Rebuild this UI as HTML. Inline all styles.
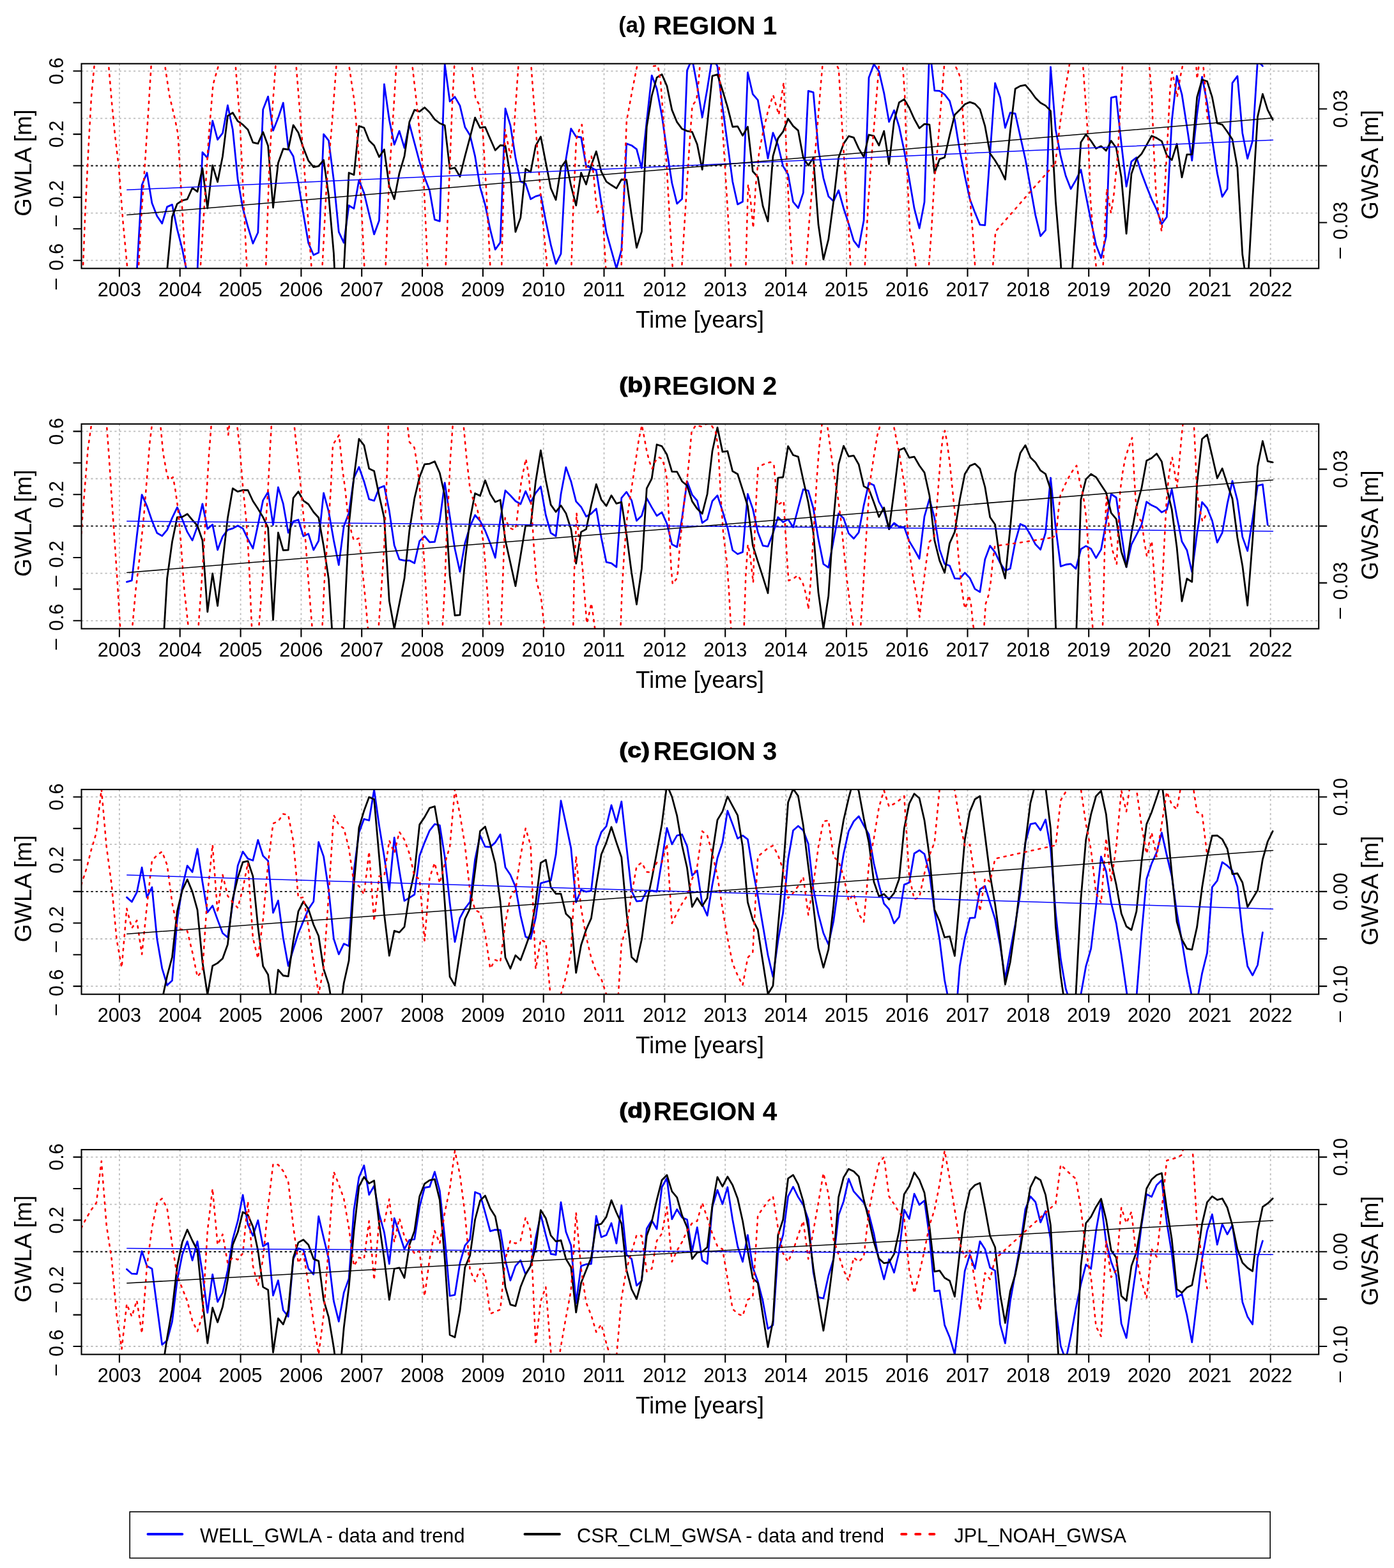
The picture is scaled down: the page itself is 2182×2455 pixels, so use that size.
<!DOCTYPE html>
<html lang="en">
<head>
<meta charset="utf-8">
<title>Groundwater anomalies by region</title>
<style>
html,body{margin:0;padding:0;background:#fff;}
body{width:2182px;height:2455px;overflow:hidden;}
svg{display:block;}
text{font-family:"Liberation Sans", sans-serif;fill:#000;}
.tt{font-size:40.6px;font-weight:bold;}
.ta{font-size:34.6px;font-weight:bold;}
.tb{font-size:32.6px;font-weight:bold;stroke:#000;stroke-width:1.1px;stroke-linejoin:round;}
.xl{font-size:30.6px;text-anchor:middle;}
.yl{font-size:30.6px;}
.lg{font-size:30.7px;}
.al{font-size:36.8px;text-anchor:middle;}
.grid{fill:none;stroke:#bcbcbc;stroke-width:1.8;stroke-dasharray:3.2 4.2;}
.zero{fill:none;stroke:#000;stroke-width:1.9;stroke-dasharray:3.4 4;}
.frame{fill:none;stroke:#000;stroke-width:2.1;}
.tick{fill:none;stroke:#000;stroke-width:2.1;}
.db{fill:none;stroke:#0000ff;stroke-width:2.8;stroke-linejoin:round;stroke-linecap:round;}
.dk{fill:none;stroke:#000;stroke-width:2.8;stroke-linejoin:round;stroke-linecap:round;}
.dr{fill:none;stroke:#ff0000;stroke-width:2.6;stroke-linejoin:round;stroke-linecap:round;stroke-dasharray:3 8;}
.lb{fill:none;stroke:#0000ff;stroke-width:4.2;stroke-linecap:round;}
.lk{fill:none;stroke:#000;stroke-width:4.2;stroke-linecap:round;}
.lr{fill:none;stroke:#ff0000;stroke-width:4.2;stroke-linecap:round;stroke-dasharray:7 15;}
.tb_{fill:none;stroke:#0000ff;stroke-width:1.5;stroke-linecap:round;}
.tk_{fill:none;stroke:#000;stroke-width:1.5;stroke-linecap:round;}
</style>
</head>
<body>
<svg width="2182" height="2455" viewBox="0 0 2182 2455">
<defs><clipPath id="c0"><rect x="127.5" y="99.7" width="1936.7" height="320.6"/></clipPath><clipPath id="c1"><rect x="127.5" y="663.8" width="1936.7" height="320.6"/></clipPath><clipPath id="c2"><rect x="127.5" y="1236.1" width="1936.7" height="320.6"/></clipPath><clipPath id="c3"><rect x="127.5" y="1800" width="1936.7" height="320.6"/></clipPath></defs>
<rect x="0" y="0" width="2182" height="2455" fill="#fff"/>
<g class="panel">
<text class="ta" x="968.2" y="51.1">(a)</text>
<text class="tt" x="1022.5" y="53.9">REGION 1</text>
<g clip-path="url(#c0)">
<path class="grid" d="M186.9 99.7 V420.3 M281.7 99.7 V420.3 M376.6 99.7 V420.3 M471.4 99.7 V420.3 M566.2 99.7 V420.3 M661 99.7 V420.3 M755.9 99.7 V420.3 M850.7 99.7 V420.3 M945.5 99.7 V420.3 M1040.4 99.7 V420.3 M1135.2 99.7 V420.3 M1230 99.7 V420.3 M1324.9 99.7 V420.3 M1419.7 99.7 V420.3 M1514.5 99.7 V420.3 M1609.4 99.7 V420.3 M1704.2 99.7 V420.3 M1799 99.7 V420.3 M1893.8 99.7 V420.3 M1988.7 99.7 V420.3 M127.5 111.3 H2064.2 M127.5 185.4 H2064.2 M127.5 333.6 H2064.2 M127.5 407.7 H2064.2"/>
<path class="zero" d="M127.5 259.5 H2064.2"/>
<path class="db" d="M198.4 469.2 L206.3 458.2 L214.2 425.2 L222.1 289.8 L230 270.5 L237.9 318 L245.8 338.3 L253.7 349.9 L261.6 323.9 L269.5 320.4 L277.4 359.2 L285.3 390 L293.2 429.6 L301.1 456 L309 425.2 L316.9 238.5 L324.8 247.3 L332.7 189.2 L340.6 218.7 L348.5 208.4 L356.4 165 L364.3 202.9 L372.2 281 L380.1 326.2 L388 354.8 L395.9 381.2 L403.8 364 L411.7 171.4 L419.6 151.1 L427.5 204.4 L435.4 184.6 L443.3 161 L451.2 231.5 L459.1 244.7 L467 286.5 L474.9 335 L482.8 380.7 L490.8 399.2 L498.7 395.5 L506.6 210.1 L514.5 220.2 L522.4 282.1 L530.3 363.1 L538.2 380.1 L546.1 321.7 L554 326.6 L561.9 282.1 L569.8 301.9 L577.7 335 L585.6 366.9 L593.5 345.3 L601.4 131.8 L609.3 187.5 L617.2 226.4 L625.1 205.1 L633 231.5 L640.9 194.1 L648.8 223.8 L656.7 253.5 L664.6 277.7 L672.5 298.6 L680.4 343.8 L688.3 346.4 L696.2 100.5 L704.1 158.8 L712 151.6 L719.9 165.4 L727.8 198.9 L735.7 211.7 L743.6 244.7 L751.5 293.1 L759.4 320.6 L767.3 359.2 L775.2 390.7 L783.1 379.6 L791 169.8 L798.9 196.3 L806.9 246.9 L814.8 284.3 L822.7 287.6 L830.6 311.8 L838.5 307.4 L846.4 305.2 L854.3 346 L862.2 383.4 L870.1 413.1 L878 397.3 L885.9 249.1 L893.8 201.5 L901.7 213.9 L909.6 215 L917.5 260.1 L925.4 262.3 L933.3 266.7 L941.2 317.3 L949.1 363.6 L957 392.2 L964.9 420.4 L972.8 391.1 L980.7 224.9 L988.6 227.7 L996.5 233.7 L1004.4 263.4 L1012.3 189.7 L1020.2 118.1 L1028.1 139 L1036 180.9 L1043.9 235.9 L1051.8 286.5 L1059.7 318.9 L1067.6 311.4 L1075.5 110.4 L1083.4 91.7 L1091.3 134.6 L1099.2 183.7 L1107.1 139 L1115 89.5 L1123 103.8 L1130.9 167.6 L1138.8 224.9 L1146.7 284.3 L1154.6 320 L1162.5 315.8 L1170.4 113.3 L1178.3 147.4 L1186.2 156.6 L1194.1 200.7 L1202 248 L1209.9 207.9 L1217.8 227.1 L1225.7 260.1 L1233.6 273.3 L1241.5 316.2 L1249.4 325.7 L1257.3 301.9 L1265.2 142.3 L1273.1 144.5 L1281 233.7 L1288.9 278.8 L1296.8 307.4 L1304.7 315.1 L1312.6 298 L1320.5 326.2 L1328.4 350.4 L1336.3 376.8 L1344.2 387.1 L1352.1 344.9 L1360 121.4 L1367.9 100.5 L1375.8 111.5 L1383.7 145.6 L1391.6 190.8 L1399.5 172.7 L1407.4 198.5 L1415.3 235.9 L1423.2 279.9 L1431.1 326.2 L1439.1 357.4 L1447 316.2 L1454.9 73 L1462.8 141.9 L1470.7 142.3 L1478.6 147.8 L1486.5 158.2 L1494.4 187.5 L1502.3 235.9 L1510.2 275.5 L1518.1 311.8 L1526 332.8 L1533.9 351.9 L1541.8 352.6 L1549.7 241.4 L1557.6 130.2 L1565.5 152.7 L1573.4 200 L1581.3 176.5 L1589.2 178 L1597.1 213.9 L1605 249.1 L1612.9 293.1 L1620.8 337.2 L1628.7 369.7 L1636.6 360.3 L1644.5 104.9 L1652.4 202.9 L1660.3 244.7 L1668.2 275.5 L1676.1 295.8 L1684 282.1 L1691.9 265.6 L1699.8 306.3 L1707.7 346 L1715.6 383.4 L1723.5 403.9 L1731.4 370.2 L1739.3 152.9 L1747.2 151.1 L1755.2 224.9 L1763.1 292 L1771 252.8 L1778.9 246.5 L1786.8 271.1 L1794.7 292 L1802.6 311.8 L1810.5 328.4 L1818.4 350.8 L1826.3 339.8 L1834.2 189.7 L1842.1 118.8 L1850 147.8 L1857.9 198.5 L1865.8 251.3 L1873.7 178.7 L1881.6 120.3 L1889.5 161 L1897.4 218.3 L1905.3 271.1 L1913.2 308.1 L1921.1 295.8 L1929 129.8 L1936.9 119.2 L1944.8 208.4 L1952.7 248.4 L1960.6 220.5 L1968.5 95 L1976.4 103.4"/>
<path class="dk" d="M253.7 579.3 L261.6 423 L269.5 339.4 L277.4 319.1 L285.3 314 L293.2 311.8 L301.1 294.2 L309 300.2 L316.9 263.4 L324.8 326.2 L332.7 259 L340.6 284.8 L348.5 244.7 L356.4 181.5 L364.3 176.5 L372.2 189.7 L380.1 195.2 L388 202.9 L395.9 223.1 L403.8 224.9 L411.7 206.8 L419.6 228.2 L427.5 325 L435.4 255.3 L443.3 233 L451.2 234.1 L459.1 195.8 L467 207.7 L474.9 231.5 L482.8 251.7 L490.8 261.6 L498.7 260.1 L506.6 250.6 L514.5 306.3 L522.4 396.6 L530.3 563 L538.2 423 L546.1 270.5 L554 273.8 L561.9 197.4 L569.8 200 L577.7 220 L585.6 227.7 L593.5 245.8 L601.4 234.1 L609.3 291.6 L617.2 311.8 L625.1 271.1 L633 244.7 L640.9 190.8 L648.8 172.1 L656.7 174.7 L664.6 168.3 L672.5 176 L680.4 186.8 L688.3 193 L696.2 196.3 L704.1 264.5 L712 262.7 L719.9 276.6 L727.8 244.7 L735.7 215 L743.6 184.2 L751.5 200.2 L759.4 198.9 L767.3 217.2 L775.2 235.2 L783.1 227.5 L791 228.2 L798.9 275.5 L806.9 363.1 L814.8 340.9 L822.7 264.5 L830.6 269.4 L838.5 228.2 L846.4 213.9 L854.3 254.6 L862.2 294.7 L870.1 312.9 L878 262.3 L885.9 251.3 L893.8 290.9 L901.7 321.7 L909.6 270.5 L917.5 288.7 L925.4 259 L933.3 237 L941.2 268.9 L949.1 284.3 L957 289.8 L964.9 294.9 L972.8 281 L980.7 281.5 L988.6 337.2 L996.5 387.8 L1004.4 362.5 L1012.3 198.5 L1020.2 150 L1028.1 121.4 L1036 116.4 L1043.9 134.6 L1051.8 172.1 L1059.7 191.2 L1067.6 201.8 L1075.5 205.1 L1083.4 206.6 L1091.3 226 L1099.2 265.6 L1107.1 194.1 L1115 118.8 L1123 116.6 L1130.9 141.2 L1138.8 167.6 L1146.7 198.5 L1154.6 197.8 L1162.5 212.3 L1170.4 198.5 L1178.3 268.3 L1186.2 277.1 L1194.1 322.8 L1202 346.6 L1209.9 244.7 L1217.8 216.7 L1225.7 206.2 L1233.6 185.9 L1241.5 197.4 L1249.4 204.4 L1257.3 246.9 L1265.2 259 L1273.1 247.2 L1281 351.5 L1288.9 406.1 L1296.8 374.6 L1304.7 315.1 L1312.6 246.9 L1320.5 224.9 L1328.4 213.2 L1336.3 215.4 L1344.2 232.6 L1352.1 245.8 L1360 211 L1367.9 212.8 L1375.8 227.7 L1383.7 205.1 L1391.6 257.2 L1399.5 189.7 L1407.4 160.4 L1415.3 155.5 L1423.2 168.7 L1431.1 186.4 L1439.1 200.7 L1447 194.1 L1454.9 195.2 L1462.8 271.1 L1470.7 249.1 L1478.6 246.5 L1486.5 211.7 L1494.4 179.8 L1502.3 172.1 L1510.2 163.2 L1518.1 159.9 L1526 162.6 L1533.9 170.9 L1541.8 197.4 L1549.7 240.3 L1557.6 251.3 L1565.5 264.5 L1573.4 281 L1581.3 205.1 L1589.2 139 L1597.1 134.6 L1605 133.1 L1612.9 142.3 L1620.8 153.3 L1628.7 161 L1636.6 165.4 L1644.5 173.6 L1652.4 315.1 L1660.3 409.8 L1668.2 557.3 L1676.1 456 L1684 338.9 L1691.9 222.7 L1699.8 210.6 L1707.7 220.5 L1715.6 232.6 L1723.5 228.8 L1731.4 235.9 L1739.3 220.5 L1747.2 231.5 L1755.2 277.7 L1763.1 365.8 L1771 272.2 L1778.9 249.1 L1786.8 241 L1794.7 227.1 L1802.6 212.8 L1810.5 216.1 L1818.4 221.1 L1826.3 242.9 L1834.2 250.6 L1842.1 225.3 L1850 277.7 L1857.9 241.8 L1865.8 241.8 L1873.7 152.2 L1881.6 124.7 L1889.5 127.4 L1897.4 152.2 L1905.3 193 L1913.2 195.2 L1921.1 206.2 L1929 218.3 L1936.9 262.3 L1944.8 398.8 L1952.7 451.6 L1960.6 312.9 L1968.5 183.1 L1976.4 147.2 L1984.3 172.1 L1992.2 187.5"/>
<path class="dr" d="M128.8 447.2 L129.9 419.7 L133.2 337.2 L138.7 227.1 L143.1 150 L147.5 103.8 L149.7 73"/>
<path class="dr" d="M168.4 73 L170.2 103.8 L175 161 L180.5 216.1 L186 262.3 L192.6 348.2 L199.3 419.7 L200.4 447.2"/>
<path class="dr" d="M215.8 447.2 L216.9 419.7 L221.3 337.2 L226.8 257.9 L232.3 172.1 L236.7 101.6 L237.8 73"/>
<path class="dr" d="M257.6 73 L258.7 106 L265.3 150 L274.1 187.5 L278.5 209.5 L282.9 286.5 L290.6 419.7 L291.7 447.2"/>
<path class="dr" d="M312.6 447.2 L313.7 419.7 L319.2 332.8 L326.9 211.7 L333.5 132.4 L342.3 101.6 L344.5 73"/>
<path class="dr" d="M367.7 73 L368.8 103.8 L375.4 187.5 L380.9 304.1 L386.4 419.7 L387.5 447.2"/>
<path class="dr" d="M415 447.2 L416.1 419.7 L421.6 257.9 L427.1 161 L431.5 101.6 L432.6 73"/>
<path class="dr" d="M462.3 73 L463.4 100.5 L472.2 209.5 L481 326.2 L487.6 419.7 L488.7 447.2"/>
<path class="dr" d="M503.3 447.2 L504.4 419.7 L511 293.1 L518.7 205.1 L526.4 103.8 L527.5 73"/>
<path class="dr" d="M545.1 73 L546.2 101.6 L555 161 L562.7 260.1 L570.4 419.7 L571.5 447.2"/>
<path class="dr" d="M602.4 447.2 L603.5 419.7 L609 282.1 L616.7 161 L620.4 101.6 L621.1 73"/>
<path class="dr" d="M644.2 73 L645.3 101.6 L654.1 178.7 L662.9 275.5 L669.5 419.7 L670.6 447.2"/>
<path class="dr" d="M696.4 447.2 L697.5 419.7 L703.6 271.1 L708 161 L711.3 101.6 L712 73"/>
<path class="dr" d="M737.8 73 L738.9 106 L744.4 154.4 L749.9 163.2 L755.4 200.7 L760.9 293.1 L767.5 419.7 L768.6 447.2"/>
<path class="dr" d="M784 447.2 L785.1 419.7 L790.6 202.9 L799.4 246.9 L803.8 213.9 L811.5 101.6 L812.6 73"/>
<path class="dr" d="M830.2 73 L831.3 101.6 L839 205.1 L847.8 326.2 L856.6 419.7 L857.7 447.2"/>
<path class="dr" d="M893.2 447.2 L894.3 419.7 L897.6 315.1 L902 218.3 L907.5 200.7 L910.8 195.2 L913 218.3 L917.4 262.3 L921.8 253.5 L925.8 244.7 L929.5 277.7 L932.8 315.1 L935 332.8 L942.7 321.7 L946 381.2 L948.2 419.7 L949.3 447.2"/>
<path class="dr" d="M971.4 447.2 L972.5 419.7 L976.9 293.1 L980.8 189.7 L990.1 139 L997.8 100.5 L1000 73"/>
<path class="dr" d="M1018.7 73 L1020.9 103.8 L1029.7 102.7 L1034.1 128 L1042.9 249.1 L1047.3 326.2 L1052.8 419.7 L1053.9 447.2"/>
<path class="dr" d="M1066 447.2 L1067.1 419.7 L1073.7 315.1 L1079.2 227.1 L1083.6 165.4 L1090.2 156.6 L1093.5 128 L1095.7 100.5 L1096.8 73"/>
<path class="dr" d="M1124.4 73 L1125.5 100.5 L1129.9 183.1 L1135.4 271.1 L1140.9 359.2 L1144.2 419.7 L1145.3 447.2"/>
<path class="dr" d="M1166.2 447.2 L1167.3 419.7 L1171 288.7 L1175 315.1 L1179 357 L1182.7 293.1 L1188.2 238.1 L1194.8 205.1 L1202.5 172.1 L1210.2 148.9 L1219 179.8 L1226.7 129.1 L1228.9 183.1 L1232.2 271.1 L1236.6 359.2 L1241 419.7 L1242.1 447.2"/>
<path class="dr" d="M1260 447.2 L1261.1 419.7 L1266.6 348.2 L1273.2 271.1 L1279.8 194.1 L1284.2 139 L1287.5 101.6 L1288.6 73"/>
<path class="dr" d="M1297.4 73 L1299.2 101.6 L1304 98.3 L1309.5 101.6 L1312.8 108.2 L1317.2 183.1 L1322.7 271.1 L1328.2 359.2 L1331.5 419.7 L1332.6 447.2"/>
<path class="dr" d="M1352.5 447.2 L1353.6 419.7 L1359.1 315.1 L1365.7 227.1 L1371.2 161 L1375.6 106 L1376.7 73"/>
<path class="dr" d="M1411.9 73 L1413 101.6 L1416.3 150 L1419.6 260.1 L1424 359.2 L1429.5 385.6 L1433.9 419.7 L1435 447.2"/>
<path class="dr" d="M1452.6 447.2 L1453.7 419.7 L1458.1 359.2 L1462.5 282.1 L1468 227.1 L1473.5 156.6 L1477.9 103.8 L1479 73"/>
<path class="dr" d="M1493.4 73 L1494.5 101.6 L1500 112.6 L1503.9 123.6 L1506.6 172.1 L1512.1 249.1 L1518.7 315.1 L1523.1 370.2 L1526.4 419.7 L1527.5 447.2"/>
<path class="dr" d="M1552.8 447.2 L1553.9 419.7 L1558.3 362.5 L1612.2 300.8 L1651.9 255.7"/>
<path class="dr" d="M1651.9 255.7 L1655.4 227.1 L1659.8 189.7 L1666.4 145.6 L1674.1 100.5 L1675.2 73"/>
<path class="dr" d="M1693.9 73 L1695 100.5 L1699.4 161 L1703.8 227.1 L1707.1 315.1 L1711.5 370.2 L1715.9 419.7 L1717.1 447.2"/>
<path class="dr" d="M1725.4 447.2 L1726.5 419.7 L1729.2 359.2 L1732.5 295.3 L1735.8 315.1 L1739.1 333.9 L1743.5 304.1 L1749 249.1 L1752.3 194.1 L1754.9 139 L1757.1 101.6 L1757.8 73"/>
<path class="dr" d="M1798.1 73 L1798.9 101.6 L1802.9 150 L1806.2 238.1 L1809.5 304.1 L1813.9 337.2 L1818.3 362.5 L1822.7 304.1 L1827.1 227.1 L1831.5 139 L1834.8 112.6 L1838.1 128 L1842.5 152.2 L1846.9 123.6 L1850.9 103.8 L1851.8 73"/>
<path class="dr" d="M1871.6 73 L1872.3 101.6 L1873.8 123.6 L1876.7 101.6 L1877.8 73"/>
<path class="dr" d="M1882.2 73 L1883.3 101.6 L1885.5 123.6 L1887.7 161 L1890.3 187.5"/>
<path class="tb_" d="M198.8 297.3 L1992.5 219.2"/>
<path class="tk_" d="M198.8 336.5 L1992.5 184.8"/>
</g>
<rect class="frame" x="127.5" y="99.7" width="1936.7" height="320.6"/>
<path class="tick" d="M127.5 407.7 h-13 M127.5 358.3 h-13 M127.5 308.9 h-13 M127.5 259.5 h-13 M127.5 210.1 h-13 M127.5 160.7 h-13 M127.5 111.3 h-13 M186.9 420.3 v13 M281.7 420.3 v13 M376.6 420.3 v13 M471.4 420.3 v13 M566.2 420.3 v13 M661 420.3 v13 M755.9 420.3 v13 M850.7 420.3 v13 M945.5 420.3 v13 M1040.4 420.3 v13 M1135.2 420.3 v13 M1230 420.3 v13 M1324.9 420.3 v13 M1419.7 420.3 v13 M1514.5 420.3 v13 M1609.4 420.3 v13 M1704.2 420.3 v13 M1799 420.3 v13 M1893.8 420.3 v13 M1988.7 420.3 v13 M2064.2 170.5 h13 M2064.2 259.5 h13 M2064.2 348.5 h13"/>
<text class="xl" x="186.9" y="464">2003</text>
<text class="xl" x="281.7" y="464">2004</text>
<text class="xl" x="376.6" y="464">2005</text>
<text class="xl" x="471.4" y="464">2006</text>
<text class="xl" x="566.2" y="464">2007</text>
<text class="xl" x="661" y="464">2008</text>
<text class="xl" x="755.9" y="464">2009</text>
<text class="xl" x="850.7" y="464">2010</text>
<text class="xl" x="945.5" y="464">2011</text>
<text class="xl" x="1040.4" y="464">2012</text>
<text class="xl" x="1135.2" y="464">2013</text>
<text class="xl" x="1230" y="464">2014</text>
<text class="xl" x="1324.9" y="464">2015</text>
<text class="xl" x="1419.7" y="464">2016</text>
<text class="xl" x="1514.5" y="464">2017</text>
<text class="xl" x="1609.4" y="464">2018</text>
<text class="xl" x="1704.2" y="464">2019</text>
<text class="xl" x="1799" y="464">2020</text>
<text class="xl" x="1893.8" y="464">2021</text>
<text class="xl" x="1988.7" y="464">2022</text>
<text class="al" x="1095.5" y="513">Time [years]</text>
<text class="yl" text-anchor="middle" transform="translate(99 111.3) rotate(-90)">0.6</text>
<text class="yl" text-anchor="middle" transform="translate(99 210.1) rotate(-90)">0.2</text>
<text class="yl" text-anchor="end" transform="translate(99 282.3) rotate(-90)"><tspan dy="-3.3">–</tspan><tspan dy="3.3" dx="12.5">0.2</tspan></text>
<text class="yl" text-anchor="end" transform="translate(99 381.1) rotate(-90)"><tspan dy="-3.3">–</tspan><tspan dy="3.3" dx="12.5">0.6</tspan></text>
<text class="al" transform="translate(49.3 255) rotate(-90)">GWLA [m]</text>
<text class="yl" text-anchor="middle" transform="translate(2109 170.5) rotate(-90)">0.03</text>
<text class="yl" text-anchor="end" transform="translate(2109 315.7) rotate(-90)"><tspan dy="-3.3">–</tspan><tspan dy="3.3" dx="12.5">0.03</tspan></text>
<text class="al" transform="translate(2157 258) rotate(-90)">GWSA [m]</text>
</g>
<g class="panel">
<text class="tb" transform="translate(969.3 613.5) scale(1.2 1)">(b)</text>
<text class="tt" x="1022.5" y="618">REGION 2</text>
<g clip-path="url(#c1)">
<path class="grid" d="M186.9 663.8 V984.4 M281.7 663.8 V984.4 M376.6 663.8 V984.4 M471.4 663.8 V984.4 M566.2 663.8 V984.4 M661 663.8 V984.4 M755.9 663.8 V984.4 M850.7 663.8 V984.4 M945.5 663.8 V984.4 M1040.4 663.8 V984.4 M1135.2 663.8 V984.4 M1230 663.8 V984.4 M1324.9 663.8 V984.4 M1419.7 663.8 V984.4 M1514.5 663.8 V984.4 M1609.4 663.8 V984.4 M1704.2 663.8 V984.4 M1799 663.8 V984.4 M1893.8 663.8 V984.4 M1988.7 663.8 V984.4 M127.5 675.4 H2064.2 M127.5 749.5 H2064.2 M127.5 897.7 H2064.2 M127.5 971.8 H2064.2"/>
<path class="zero" d="M127.5 823.6 H2064.2"/>
<path class="db" d="M198.4 911.1 L206.3 908.9 L214.2 839.5 L222.1 774.6 L230 792.2 L237.9 815.3 L245.8 834.5 L253.7 839.1 L261.6 829.6 L269.5 810.9 L277.4 794.4 L285.3 813.1 L293.2 832.9 L301.1 846.1 L309 824.1 L316.9 788.9 L324.8 828.1 L332.7 821.2 L340.6 861.1 L348.5 840 L356.4 829.6 L364.3 827.4 L372.2 823 L380.1 827.4 L388 843.9 L395.9 858.7 L403.8 821.9 L411.7 783.4 L419.6 770.2 L427.5 821.9 L435.4 762.9 L443.3 788.9 L451.2 834 L459.1 816.4 L467 813.8 L474.9 839.5 L482.8 835.8 L490.8 861.1 L498.7 846.8 L506.6 771.9 L514.5 801 L522.4 846.1 L530.3 884.6 L538.2 824.1 L546.1 803.2 L554 748.2 L561.9 731.2 L569.8 753.7 L577.7 781.6 L585.6 784 L593.5 764 L601.4 760.9 L609.3 799.9 L617.2 853.8 L625.1 875.8 L633 877.6 L640.9 877.6 L648.8 881.8 L656.7 847.2 L664.6 839.5 L672.5 848.8 L680.4 848.3 L688.3 815.3 L696.2 755.9 L704.1 808.7 L712 859.3 L719.9 895.2 L727.8 850.5 L735.7 824.1 L743.6 806.5 L751.5 815.7 L759.4 830.7 L767.3 850.5 L775.2 873.2 L783.1 813.1 L791 768 L798.9 775.7 L806.9 784.5 L814.8 789.3 L822.7 769.1 L830.6 786.7 L838.5 771.9 L846.4 761.8 L854.3 806.5 L862.2 834.5 L870.1 839.5 L878 773.5 L885.9 731.6 L893.8 753.7 L901.7 785.1 L909.6 793.7 L917.5 808.7 L925.4 804.3 L933.3 796.6 L941.2 841.7 L949.1 880.2 L957 881.8 L964.9 887.9 L972.8 779.6 L980.7 770.2 L988.6 783.4 L996.5 815.3 L1004.4 807.6 L1012.3 780.1 L1020.2 794.4 L1028.1 807.6 L1036 802.1 L1043.9 819.7 L1051.8 852.3 L1059.7 856.5 L1067.6 810.9 L1075.5 753.7 L1083.4 774.6 L1091.3 784 L1099.2 818.6 L1107.1 813.1 L1115 784.5 L1123 775.7 L1130.9 799.9 L1138.8 826.3 L1146.7 861.5 L1154.6 867.5 L1162.5 864.4 L1170.4 773.5 L1178.3 796.6 L1186.2 832.9 L1194.1 854.3 L1202 855.6 L1209.9 835.1 L1217.8 809.8 L1225.7 817.5 L1233.6 813.1 L1241.5 825.6 L1249.4 795.5 L1257.3 766.2 L1265.2 768.4 L1273.1 796 L1281 843.9 L1288.9 883.1 L1296.8 888.6 L1304.7 846.1 L1312.6 803.9 L1320.5 811.6 L1328.4 835.1 L1336.3 843.3 L1344.2 833.6 L1352.1 791.1 L1360 755.9 L1367.9 759.8 L1375.8 785.6 L1383.7 799.9 L1391.6 828.5 L1399.5 819 L1407.4 824.8 L1415.3 825.2 L1423.2 847.2 L1431.1 860.4 L1439.1 874.7 L1447 808.7 L1454.9 781.2 L1462.8 810.9 L1470.7 860.4 L1478.6 882.9 L1486.5 885.7 L1494.4 905.6 L1502.3 906 L1510.2 896.8 L1518.1 905.1 L1526 922.1 L1533.9 926.9 L1541.8 875.8 L1549.7 854.5 L1557.6 864.8 L1565.5 881.3 L1573.4 893.5 L1581.3 890.2 L1589.2 848.3 L1597.1 820.4 L1605 824.1 L1612.9 837.3 L1620.8 852.3 L1628.7 860.4 L1636.6 834 L1644.5 748.2 L1652.4 826.3 L1660.3 886.8 L1668.2 884 L1676.1 882.9 L1684 890.6 L1691.9 859.8 L1699.8 854.9 L1707.7 859.3 L1715.6 873.6 L1723.5 860.4 L1731.4 817.5 L1739.3 773.5 L1747.2 779 L1755.2 835.1 L1763.1 887.9 L1771 852.7 L1778.9 837.3 L1786.8 821.9 L1794.7 785.6 L1802.6 791.1 L1810.5 794.8 L1818.4 802.1 L1826.3 798.1 L1834.2 766.2 L1842.1 808.7 L1850 847.7 L1857.9 861.5 L1865.8 895.7 L1873.7 835.1 L1881.6 786.2 L1889.5 795.5 L1897.4 815.3 L1905.3 849.4 L1913.2 834 L1921.1 788.9 L1929 753 L1936.9 783.4 L1944.8 840.6 L1952.7 862.6 L1960.6 813.1 L1968.5 760.3 L1976.4 758.5 L1984.3 821.9"/>
<path class="dk" d="M253.7 1039.8 L261.6 905.6 L269.5 848.3 L277.4 809.8 L285.3 809.4 L293.2 804.7 L301.1 814.2 L309 823 L316.9 846.1 L324.8 958 L332.7 897.9 L340.6 948.5 L348.5 879.1 L356.4 810.9 L364.3 764.7 L372.2 769.7 L380.1 767.3 L388 767.5 L395.9 784.5 L403.8 796.6 L411.7 809.8 L419.6 826.3 L427.5 970.5 L435.4 834 L443.3 861.5 L451.2 861.1 L459.1 779.6 L467 769.7 L474.9 783.8 L482.8 789.5 L490.8 801.7 L498.7 810.5 L506.6 854.9 L514.5 906.7 L522.4 1028.2 L530.3 1165.3 L538.2 989.2 L546.1 821.9 L554 747.1 L561.9 687.2 L569.8 697.1 L577.7 733.8 L585.6 737.6 L593.5 775.7 L601.4 810.9 L609.3 940.8 L617.2 984.4 L625.1 945.2 L633 905.6 L640.9 830.7 L648.8 780.1 L656.7 747.1 L664.6 726.8 L672.5 726.1 L680.4 722.4 L688.3 740.5 L696.2 775.7 L704.1 901.2 L712 963.5 L719.9 962.8 L727.8 879.1 L735.7 813.1 L743.6 772.4 L751.5 776.3 L759.4 752.1 L767.3 773.5 L775.2 786 L783.1 782.7 L791 846.1 L798.9 881.3 L806.9 917.7 L814.8 870.3 L822.7 822.6 L830.6 823.4 L838.5 753.7 L846.4 705.2 L854.3 751.5 L862.2 790.4 L870.1 801.4 L878 791.5 L885.9 803.7 L893.8 828.5 L901.7 882.4 L909.6 832.9 L917.5 828.5 L925.4 791.1 L933.3 758.1 L941.2 782.3 L949.1 792.2 L957 775.7 L964.9 788.4 L972.8 786.2 L980.7 837.3 L988.6 896.8 L996.5 946.3 L1004.4 890.2 L1012.3 764.7 L1020.2 749.3 L1028.1 696 L1036 698.6 L1043.9 711.8 L1051.8 738.3 L1059.7 738.7 L1067.6 753.7 L1075.5 760.3 L1083.4 784.9 L1091.3 796.6 L1099.2 804.3 L1107.1 773.5 L1115 706.3 L1123 669.3 L1130.9 707.4 L1138.8 706.3 L1146.7 737.8 L1154.6 742.2 L1162.5 766.9 L1170.4 792.6 L1178.3 853.8 L1186.2 879.1 L1194.1 903.4 L1202 928.7 L1209.9 835.1 L1217.8 748.2 L1225.7 747.1 L1233.6 698.6 L1241.5 712.5 L1249.4 715.1 L1257.3 751.5 L1265.2 786.7 L1273.1 834 L1281 927.6 L1288.9 984.4 L1296.8 933.1 L1304.7 813.1 L1312.6 727.2 L1320.5 698.2 L1328.4 714.7 L1336.3 713.4 L1344.2 727.2 L1352.1 761.4 L1360 765.8 L1367.9 786.7 L1375.8 809.4 L1383.7 794.8 L1391.6 828.5 L1399.5 769.1 L1407.4 704.8 L1415.3 701.5 L1423.2 716.7 L1431.1 715.1 L1439.1 729 L1447 739.8 L1454.9 775.7 L1462.8 846.1 L1470.7 877.6 L1478.6 896.8 L1486.5 850.5 L1494.4 832.9 L1502.3 782.3 L1510.2 742.2 L1518.1 729.4 L1526 726.1 L1533.9 733.8 L1541.8 762.5 L1549.7 809.8 L1557.6 821.2 L1565.5 879.1 L1573.4 905.6 L1581.3 826.3 L1589.2 741.6 L1597.1 709.2 L1605 697.1 L1612.9 716.2 L1620.8 723.9 L1628.7 736.7 L1636.6 742.2 L1644.5 766.3 L1652.4 978.2 L1660.3 1165.3 L1668.2 1209.4 L1676.1 1165.3 L1684 1011.2 L1691.9 782.3 L1699.8 750.4 L1707.7 742.2 L1715.6 747.1 L1723.5 759.2 L1731.4 771.3 L1739.3 803.2 L1747.2 812.7 L1755.2 863.7 L1763.1 887.9 L1771 835.1 L1778.9 793.3 L1786.8 764.7 L1794.7 721.3 L1802.6 717.3 L1810.5 710.3 L1818.4 722.8 L1826.3 764.7 L1834.2 797.7 L1842.1 857.1 L1850 941.4 L1857.9 906 L1865.8 911.1 L1873.7 755.9 L1881.6 687.2 L1889.5 680.6 L1897.4 714 L1905.3 748.6 L1913.2 733.4 L1921.1 758.1 L1929 780.7 L1936.9 841.7 L1944.8 885.7 L1952.7 948 L1960.6 846.1 L1968.5 730.5 L1976.4 690.5 L1984.3 722.2 L1992.2 723.9"/>
<path class="dr" d="M124.4 879.1 L128.8 813.1 L133.2 758.1 L137.6 703 L143.1 664.5 L144.2 637"/>
<path class="dr" d="M165.8 637 L166.9 664.5 L170.6 714 L175 782.3 L179.4 846.1 L183.8 912.2 L188.2 983.7 L189.3 1011.2"/>
<path class="dr" d="M205.9 1011.2 L207 983.7 L212.5 923.2 L219.1 868.1 L225.7 802.1 L230.1 747.1 L234.5 692 L237.8 665.6 L238.9 637"/>
<path class="dr" d="M250.3 637 L251.4 667.8 L255.4 709.6 L260.9 740.5 L264.2 751.5 L270.8 747.1 L274.1 764.7 L278.5 795.5 L282.9 846.1 L288.4 923.2 L295 983.7 L296.1 1011.2"/>
<path class="dr" d="M309.3 1011.2 L310.4 983.7 L314.8 923.2 L319.2 857.1 L323.6 769.1 L326.9 714 L330.7 665.6 L331.3 637"/>
<path class="dr" d="M354.7 637 L355.6 665.6 L357.3 681 L358.9 665.6 L359.5 637"/>
<path class="dr" d="M369.9 637 L371 664.5 L375.4 703 L379.8 758.1 L385.3 813.1 L389.7 879.1 L394.1 983.7 L395.2 1011.2"/>
<path class="dr" d="M404 1011.2 L405.1 983.7 L410.6 912.2 L415 835.1 L419.4 769.1 L422.7 703 L424.9 665.6 L425.6 637"/>
<path class="dr" d="M459.7 637 L460.8 667.8 L465.6 714 L470 753.7 L476.6 824.1 L482.1 901.2 L488.7 983.7 L489.8 1011.2"/>
<path class="dr" d="M503.3 1011.2 L504.4 983.7 L507.7 912.2 L513.2 835.1 L517.6 769.1 L520.9 698.6 L523.1 693.1 L530.8 681 L533 703 L536.3 736.1 L540.7 769.1 L545.1 813.1 L550.6 835.1 L553.9 846.1 L561.6 842.8 L564.9 868.1 L568.2 901.2 L571.5 934.2 L575.9 983.7 L577.1 1011.2"/>
<path class="dr" d="M591.4 1011.2 L592.5 983.7 L596.9 923.2 L601.3 857.1 L604.6 769.1 L606.8 714 L607.9 665.6 L608.3 637"/>
<path class="dr" d="M636.9 637 L638 667.8 L640.9 692 L648.6 700.8 L651.9 720.6 L656.3 753.7 L659.6 813.1 L664 879.1 L667.3 934.2 L671.3 983.7 L672.2 1011.2"/>
<path class="dr" d="M691.5 1011.2 L692.6 983.7 L695.9 923.2 L699.2 835.1 L702.5 769.1 L705.2 714 L708.7 665.6 L709.6 637"/>
<path class="dr" d="M724.5 637 L725.6 665.6 L730 714 L735.6 764.7 L740 780.1 L746.6 795.5 L753.2 824.1 L757.6 857.1 L760.9 901.2 L764.2 945.2 L766.4 983.7 L767.5 1011.2"/>
<path class="dr" d="M782.9 1011.2 L784 983.7 L787.3 901.2 L790.6 810.9 L797.2 826.3 L804.9 829.6 L808.2 821.9 L811.5 791.1 L815.9 753.7 L823.2 718.4 L828 747.1 L832.4 802.1 L835.7 857.1 L840.1 912.2 L846.7 934.2 L852.2 983.7 L853.3 1011.2"/>
<path class="dr" d="M896.5 1011.2 L897.2 983.7 L898.7 901.2 L900.9 846.1 L902.5 803.2 L905.3 835.1 L908.6 857.1 L911.9 890.2 L915.2 934.2 L918.5 976 L921.8 962.8 L925.6 944.5 L928.4 962.8 L931.1 983.7 L932 1011.2"/>
<path class="dr" d="M970.3 1011.2 L971.4 983.7 L973.6 923.2 L976.9 868.1 L981.3 813.1 L987.9 769.1 L994.5 725 L1000 687.6 L1004.8 665.6 L1007.7 681 L1012.1 705.2 L1016.5 722.8 L1020.9 733.8 L1025.3 722.8 L1030.8 715.8 L1036.3 718.4 L1040.7 731.6 L1044 751.5 L1046.2 791.1 L1048.4 846.1 L1050.6 890.2 L1052.8 914.4 L1059.4 905.6 L1061.6 890.2 L1063.8 857.1 L1067.1 824.1 L1071.5 780.1 L1075.9 747.1 L1079.2 714 L1082.5 676.6 L1089.1 665.6 L1097.9 667.8 L1106.7 663.4 L1113.4 665.6 L1120 675.5 L1124.4 703 L1127.7 769.1 L1132.1 835.1 L1137.6 879.1 L1140.9 923.2 L1144.2 983.7 L1145.3 1011.2"/>
<path class="dr" d="M1163.5 1011.2 L1164.6 983.7 L1167.3 901.2 L1170.6 852.7 L1173.9 868.1 L1179 912.2 L1180.5 857.1 L1182.7 802.1 L1184.9 758.1 L1186.7 731.6 L1194.8 727.2 L1205.8 723.5 L1211.3 727.2 L1213.5 751.5 L1216.8 791.1 L1226.7 784.5 L1228.9 824.1 L1232.2 879.1 L1234.4 908.9 L1241 906.7 L1248.7 900.7 L1256.4 912.2 L1260.8 927.6 L1265.3 951.8"/>
<path class="dr" d="M1265.5 951.8 L1268.8 912.2 L1272.1 857.1 L1275.4 802.1 L1278.7 747.1 L1282 703 L1286.4 665.6 L1287.5 637"/>
<path class="dr" d="M1294.1 637 L1295.2 667.8 L1298.5 692 L1302.9 725 L1307.3 753.7 L1311.7 780.1 L1316.1 813.1 L1320.5 857.1 L1324.9 901.2 L1330.4 945.2 L1335.9 983.7 L1337.1 1011.2"/>
<path class="dr" d="M1345.9 1011.2 L1347 983.7 L1350.3 934.2 L1353.6 879.1 L1356.9 824.1 L1361.3 758.1 L1367.9 714 L1373.4 681 L1377.8 665.6 L1378.9 637"/>
<path class="dr" d="M1397.6 637 L1398.7 665.6 L1403.1 687.6 L1407.5 709.6 L1411.9 736.1 L1416.3 764.7 L1419.6 813.1 L1424 868.1 L1429.5 905.6 L1435 934.2 L1439.4 966.1 L1442.7 934.2 L1447.1 901.2 L1451.5 868.1 L1454.8 848.3 L1462.5 839.5 L1465.8 802.1 L1469.1 758.1 L1472.4 714 L1475.7 685.4 L1479 674.4 L1482.3 692 L1486.7 725 L1490 758.1 L1493.4 791.1 L1496.7 824.1 L1500 868.1 L1504.4 912.2 L1508.8 945.2 L1511 952.9 L1516.5 932 L1519.8 945.2 L1523.1 978.2 L1524.2 983.7 L1524.8 1011.2"/>
<path class="dr" d="M1539.1 1011.2 L1540.2 983.7 L1542.9 945.2 L1547.3 932 L1550.6 912.2 L1553.9 879.1 L1557.2 854.9 L1590.2 850.5 L1647.5 841.7"/>
<path class="dr" d="M1647.5 841.7 L1653.2 837.3 L1656.5 802.1 L1659.8 775.7 L1666.4 760.3 L1673 747.1 L1679.6 736.1 L1685.1 729 L1689.5 751.5 L1693.9 769.1 L1697.2 786.7 L1700.5 813.1 L1702.7 846.1 L1704.9 890.2 L1707.1 934.2 L1710.4 983.7 L1711.5 1011.2"/>
<path class="dr" d="M1724.8 1011.2 L1725.9 983.7 L1727.6 923.2 L1729.2 857.1 L1730.7 802.1 L1732 777.9 L1734.7 813.1 L1738 839.5 L1741.3 861.5 L1747.9 883.5 L1749 857.1 L1751.2 813.1 L1753.4 769.1 L1756.7 742.7 L1761.1 718.4 L1766.6 700.8 L1772.1 685.4 L1773.8 714 L1775.4 747.1 L1777.6 782.3 L1780.9 808.7 L1787.5 817.5 L1790.8 846.1 L1795.2 871.4 L1802.9 847.2 L1805.1 879.1 L1807.3 912.2 L1809.5 945.2 L1812.2 980.4 L1816.1 956.2 L1819.4 912.2 L1822.7 846.1 L1826 782.3 L1829.3 747.1 L1832.6 725 L1834.8 716.2 L1838.1 736.1 L1842.5 762.5 L1845.8 725 L1849.1 687.6 L1851.3 665.6 L1852 637"/>
<path class="dr" d="M1868.1 637 L1868.9 665.6 L1871.2 714 L1872.9 758.1 L1875.6 786.7 L1878.9 802.1 L1882.2 816.4 L1888.8 804.3"/>
<path class="tb_" d="M198.8 816 L1992.5 831.8"/>
<path class="tk_" d="M198.8 896.5 L1992.5 751.5"/>
</g>
<rect class="frame" x="127.5" y="663.8" width="1936.7" height="320.6"/>
<path class="tick" d="M127.5 971.8 h-13 M127.5 922.4 h-13 M127.5 873 h-13 M127.5 823.6 h-13 M127.5 774.2 h-13 M127.5 724.8 h-13 M127.5 675.4 h-13 M186.9 984.4 v13 M281.7 984.4 v13 M376.6 984.4 v13 M471.4 984.4 v13 M566.2 984.4 v13 M661 984.4 v13 M755.9 984.4 v13 M850.7 984.4 v13 M945.5 984.4 v13 M1040.4 984.4 v13 M1135.2 984.4 v13 M1230 984.4 v13 M1324.9 984.4 v13 M1419.7 984.4 v13 M1514.5 984.4 v13 M1609.4 984.4 v13 M1704.2 984.4 v13 M1799 984.4 v13 M1893.8 984.4 v13 M1988.7 984.4 v13 M2064.2 734.6 h13 M2064.2 823.6 h13 M2064.2 912.6 h13"/>
<text class="xl" x="186.9" y="1028.1">2003</text>
<text class="xl" x="281.7" y="1028.1">2004</text>
<text class="xl" x="376.6" y="1028.1">2005</text>
<text class="xl" x="471.4" y="1028.1">2006</text>
<text class="xl" x="566.2" y="1028.1">2007</text>
<text class="xl" x="661" y="1028.1">2008</text>
<text class="xl" x="755.9" y="1028.1">2009</text>
<text class="xl" x="850.7" y="1028.1">2010</text>
<text class="xl" x="945.5" y="1028.1">2011</text>
<text class="xl" x="1040.4" y="1028.1">2012</text>
<text class="xl" x="1135.2" y="1028.1">2013</text>
<text class="xl" x="1230" y="1028.1">2014</text>
<text class="xl" x="1324.9" y="1028.1">2015</text>
<text class="xl" x="1419.7" y="1028.1">2016</text>
<text class="xl" x="1514.5" y="1028.1">2017</text>
<text class="xl" x="1609.4" y="1028.1">2018</text>
<text class="xl" x="1704.2" y="1028.1">2019</text>
<text class="xl" x="1799" y="1028.1">2020</text>
<text class="xl" x="1893.8" y="1028.1">2021</text>
<text class="xl" x="1988.7" y="1028.1">2022</text>
<text class="al" x="1095.5" y="1077.1">Time [years]</text>
<text class="yl" text-anchor="middle" transform="translate(99 675.4) rotate(-90)">0.6</text>
<text class="yl" text-anchor="middle" transform="translate(99 774.2) rotate(-90)">0.2</text>
<text class="yl" text-anchor="end" transform="translate(99 846.4) rotate(-90)"><tspan dy="-3.3">–</tspan><tspan dy="3.3" dx="12.5">0.2</tspan></text>
<text class="yl" text-anchor="end" transform="translate(99 945.2) rotate(-90)"><tspan dy="-3.3">–</tspan><tspan dy="3.3" dx="12.5">0.6</tspan></text>
<text class="al" transform="translate(49.3 819.1) rotate(-90)">GWLA [m]</text>
<text class="yl" text-anchor="middle" transform="translate(2109 734.6) rotate(-90)">0.03</text>
<text class="yl" text-anchor="end" transform="translate(2109 879.8) rotate(-90)"><tspan dy="-3.3">–</tspan><tspan dy="3.3" dx="12.5">0.03</tspan></text>
<text class="al" transform="translate(2157 822.1) rotate(-90)">GWSA [m]</text>
</g>
<g class="panel">
<text class="tb" transform="translate(969.3 1185.8) scale(1.2 1)">(c)</text>
<text class="tt" x="1022.5" y="1190.3">REGION 3</text>
<g clip-path="url(#c2)">
<path class="grid" d="M186.9 1236.1 V1556.7 M281.7 1236.1 V1556.7 M376.6 1236.1 V1556.7 M471.4 1236.1 V1556.7 M566.2 1236.1 V1556.7 M661 1236.1 V1556.7 M755.9 1236.1 V1556.7 M850.7 1236.1 V1556.7 M945.5 1236.1 V1556.7 M1040.4 1236.1 V1556.7 M1135.2 1236.1 V1556.7 M1230 1236.1 V1556.7 M1324.9 1236.1 V1556.7 M1419.7 1236.1 V1556.7 M1514.5 1236.1 V1556.7 M1609.4 1236.1 V1556.7 M1704.2 1236.1 V1556.7 M1799 1236.1 V1556.7 M1893.8 1236.1 V1556.7 M1988.7 1236.1 V1556.7 M127.5 1247.7 H2064.2 M127.5 1321.8 H2064.2 M127.5 1470 H2064.2 M127.5 1544.1 H2064.2"/>
<path class="zero" d="M127.5 1395.9 H2064.2"/>
<path class="db" d="M198.4 1404.9 L206.3 1412 L214.2 1397.2 L222.1 1358.2 L230 1404.9 L237.9 1389.1 L245.8 1469.9 L253.7 1516.1 L261.6 1542.5 L269.5 1535.2 L277.4 1440.1 L285.3 1389.5 L293.2 1355.4 L301.1 1365.3 L309 1329 L316.9 1380.7 L324.8 1428.5 L332.7 1418.1 L340.6 1440.1 L348.5 1461 L356.4 1467.7 L364.3 1413.7 L372.2 1355.4 L380.1 1333.4 L388 1344.4 L395.9 1347.2 L403.8 1315.1 L411.7 1340 L419.6 1347.7 L427.5 1429.1 L435.4 1410 L443.3 1468.8 L451.2 1512.3 L459.1 1486.4 L467 1461 L474.9 1442.3 L482.8 1423.6 L490.8 1411.5 L498.7 1318.4 L506.6 1341.1 L514.5 1393.9 L522.4 1469.9 L530.3 1494.1 L538.2 1477.6 L546.1 1481.3 L554 1363.1 L561.9 1303.6 L569.8 1282.3 L577.7 1284.5 L585.6 1236.5 L593.5 1292.6 L601.4 1341.1 L609.3 1393.9 L617.2 1311.4 L625.1 1363.1 L633 1410.4 L640.9 1405.6 L648.8 1400.5 L656.7 1340 L664.6 1319.1 L672.5 1300.3 L680.4 1290.4 L688.3 1292 L696.2 1341.1 L704.1 1413.7 L712 1474.7 L719.9 1437.3 L727.8 1422.5 L735.7 1412.2 L743.6 1345.5 L751.5 1308.1 L759.4 1325.7 L767.3 1326.1 L775.2 1319.1 L783.1 1306.5 L791 1358 L798.9 1369.7 L806.9 1388.4 L814.8 1433.5 L822.7 1466.6 L830.6 1469.9 L838.5 1436.8 L846.4 1382.9 L854.3 1380.7 L862.2 1378.5 L870.1 1337.8 L878 1253.7 L885.9 1290.4 L893.8 1327.9 L901.7 1412.6 L909.6 1393.2 L917.5 1396.1 L925.4 1394.6 L933.3 1325.7 L941.2 1303 L949.1 1293.7 L957 1260.7 L964.9 1287.8 L972.8 1254.8 L980.7 1325.7 L988.6 1395 L996.5 1411.1 L1004.4 1410.4 L1012.3 1395 L1020.2 1394.6 L1028.1 1396.1 L1036 1347.7 L1043.9 1296.4 L1051.8 1321.9 L1059.7 1308.1 L1067.6 1306.5 L1075.5 1325 L1083.4 1370.8 L1091.3 1363.1 L1099.2 1415.9 L1107.1 1433.5 L1115 1385.1 L1123 1343.3 L1130.9 1319.1 L1138.8 1269.5 L1146.7 1290.4 L1154.6 1312.9 L1162.5 1308.1 L1170.4 1314.2 L1178.3 1360.9 L1186.2 1402.7 L1194.1 1448.9 L1202 1495.2 L1209.9 1529.3 L1217.8 1473.2 L1225.7 1429.1 L1233.6 1345.5 L1241.5 1300.3 L1249.4 1293.3 L1257.3 1300.3 L1265.2 1321.3 L1273.1 1391.7 L1281 1431.3 L1288.9 1461 L1296.8 1478.7 L1304.7 1442.3 L1312.6 1385.1 L1320.5 1336.7 L1328.4 1301.4 L1336.3 1286 L1344.2 1277.9 L1352.1 1292.6 L1360 1306.5 L1367.9 1352.1 L1375.8 1385.1 L1383.7 1414.8 L1391.6 1423.6 L1399.5 1445.6 L1407.4 1435.7 L1415.3 1385.1 L1423.2 1381.8 L1431.1 1336.2 L1439.1 1331.2 L1447 1337.1 L1454.9 1367.5 L1462.8 1426.9 L1470.7 1471 L1478.6 1534.8 L1486.5 1574.4 L1494.4 1612.9 L1502.3 1512.8 L1510.2 1468.8 L1518.1 1437.3 L1526 1436.8 L1533.9 1392.4 L1541.8 1387.3 L1549.7 1413.7 L1557.6 1439 L1565.5 1479.8 L1573.4 1532.6 L1581.3 1488.6 L1589.2 1446.7 L1597.1 1398.3 L1605 1319.1 L1612.9 1290.4 L1620.8 1288.7 L1628.7 1299.9 L1636.6 1283.2 L1644.5 1327.9 L1652.4 1429.1 L1660.3 1501.8 L1668.2 1548 L1676.1 1572.2 L1684 1583.2 L1691.9 1556.8 L1699.8 1512.8 L1707.7 1485.3 L1715.6 1418.1 L1723.5 1341.1 L1731.4 1364.2 L1739.3 1413.7 L1747.2 1445.6 L1755.2 1495.2 L1763.1 1550.2 L1771 1605.2 L1778.9 1561.2 L1786.8 1462.2 L1794.7 1376.3 L1802.6 1352.1 L1810.5 1334.5 L1818.4 1303.6 L1826.3 1338.9 L1834.2 1371.9 L1842.1 1429.1 L1850 1473.2 L1857.9 1521.6 L1865.8 1561.2 L1873.7 1567.8 L1881.6 1523.8 L1889.5 1491.9 L1897.4 1388.8 L1905.3 1378.9 L1913.2 1349.9 L1921.1 1355.4 L1929 1363.1 L1936.9 1388.4 L1944.8 1459.9 L1952.7 1512.8 L1960.6 1527.1 L1968.5 1511 L1976.4 1459.9"/>
<path class="dk" d="M253.7 1565.6 L261.6 1528.2 L269.5 1498.5 L277.4 1426.9 L285.3 1393.9 L293.2 1377 L301.1 1396.1 L309 1424.7 L316.9 1506.2 L324.8 1557.3 L332.7 1512.3 L340.6 1507.9 L348.5 1500.7 L356.4 1478.7 L364.3 1407.1 L372.2 1374.1 L380.1 1349.9 L388 1348.1 L395.9 1371.9 L403.8 1451.1 L411.7 1512.8 L419.6 1526 L427.5 1587.6 L435.4 1518.3 L443.3 1527.5 L451.2 1528.6 L459.1 1473.2 L467 1426.9 L474.9 1411.5 L482.8 1423.6 L490.8 1447.8 L498.7 1465.5 L506.6 1517.2 L514.5 1541.4 L522.4 1587.6 L530.3 1600.8 L538.2 1539.2 L546.1 1504 L554 1385.1 L561.9 1295.9 L569.8 1269.5 L577.7 1248 L585.6 1251.5 L593.5 1341.1 L601.4 1431.3 L609.3 1496.3 L617.2 1457.3 L625.1 1459.9 L633 1451.1 L640.9 1400.5 L648.8 1365.3 L656.7 1291.1 L664.6 1279.4 L672.5 1265.1 L680.4 1262.5 L688.3 1308.1 L696.2 1413.7 L704.1 1529.3 L712 1542.9 L719.9 1490.8 L727.8 1439 L735.7 1422.5 L743.6 1363.1 L751.5 1301.4 L759.4 1294.2 L767.3 1321.3 L775.2 1352.1 L783.1 1411.5 L791 1499.1 L798.9 1516.5 L806.9 1495.8 L814.8 1503.3 L822.7 1482 L830.6 1459.9 L838.5 1413.7 L846.4 1351 L854.3 1346.1 L862.2 1389.1 L870.1 1399.4 L878 1399.4 L885.9 1430.8 L893.8 1438.6 L901.7 1523.1 L909.6 1479.8 L917.5 1455.5 L925.4 1437.9 L933.3 1385.1 L941.2 1337.8 L949.1 1319.1 L957 1294.8 L964.9 1319.1 L972.8 1342.2 L980.7 1429.1 L988.6 1498.5 L996.5 1506.2 L1004.4 1471 L1012.3 1413.7 L1020.2 1376.3 L1028.1 1334.5 L1036 1290.4 L1043.9 1228.8 L1051.8 1247.5 L1059.7 1277.2 L1067.6 1323.5 L1075.5 1358.7 L1083.4 1419.9 L1091.3 1406 L1099.2 1418.6 L1107.1 1406 L1115 1336.7 L1123 1283.8 L1130.9 1270.6 L1138.8 1247.1 L1146.7 1261.8 L1154.6 1276.6 L1162.5 1325.7 L1170.4 1412.6 L1178.3 1440.1 L1186.2 1455.5 L1194.1 1506.2 L1202 1556.4 L1209.9 1543.6 L1217.8 1451.1 L1225.7 1363.1 L1233.6 1256.3 L1241.5 1235 L1249.4 1246.4 L1257.3 1292.6 L1265.2 1356.5 L1273.1 1418.1 L1281 1484.2 L1288.9 1515 L1296.8 1486.4 L1304.7 1418.1 L1312.6 1330.1 L1320.5 1283.8 L1328.4 1249.7 L1336.3 1220 L1344.2 1238.7 L1352.1 1281.6 L1360 1319.1 L1367.9 1380.7 L1375.8 1403.4 L1383.7 1399.8 L1391.6 1408.2 L1399.5 1398.3 L1407.4 1376.3 L1415.3 1297 L1423.2 1258.1 L1431.1 1242.7 L1439.1 1249.7 L1447 1284.5 L1454.9 1341.1 L1462.8 1424.3 L1470.7 1442.3 L1478.6 1467.7 L1486.5 1466.1 L1494.4 1496.7 L1502.3 1407.1 L1510.2 1314.7 L1518.1 1270.6 L1526 1251.5 L1533.9 1246.4 L1541.8 1308.1 L1549.7 1369.7 L1557.6 1415.9 L1565.5 1473.2 L1573.4 1541.4 L1581.3 1506.2 L1589.2 1451.1 L1597.1 1385.1 L1605 1319.1 L1612.9 1257.4 L1620.8 1226.6 L1628.7 1217.8 L1636.6 1233.2 L1644.5 1297 L1652.4 1451.1 L1660.3 1528.2 L1668.2 1583.2 L1676.1 1627.3 L1684 1556.8 L1691.9 1407.1 L1699.8 1314.7 L1707.7 1275 L1715.6 1246.4 L1723.5 1238.3 L1731.4 1275 L1739.3 1349.9 L1747.2 1385.1 L1755.2 1430.2 L1763.1 1450.5 L1771 1456 L1778.9 1426.9 L1786.8 1349.9 L1794.7 1290.4 L1802.6 1271.7 L1810.5 1248.6 L1818.4 1224.4 L1826.3 1286 L1834.2 1367.5 L1842.1 1443.4 L1850 1471 L1857.9 1485.3 L1865.8 1486.8 L1873.7 1451.1 L1881.6 1389.5 L1889.5 1341.1 L1897.4 1308.5 L1905.3 1308.1 L1913.2 1314 L1921.1 1329 L1929 1368.6 L1936.9 1367.5 L1944.8 1381.8 L1952.7 1419.9 L1960.6 1407.1 L1968.5 1393.9 L1976.4 1345.5 L1984.3 1317.5 L1992.2 1301.4"/>
<path class="dr" d="M127.2 1385.1 L135.1 1360.9 L143 1330.1 L150.9 1303.6 L158.8 1235.4 L166.7 1325.7 L174.7 1385.1 L182.6 1471 L190.5 1515 L198.4 1422.5 L206.3 1453.3 L214.2 1441.2 L222.1 1494.1 L230 1418.1 L237.9 1347.7 L245.8 1338.9 L253.7 1333.4 L261.6 1354.3 L269.5 1413.7 L277.4 1453.3 L285.3 1455.5 L293.2 1457.7 L301.1 1490.8 L309 1529.3 L316.9 1519.4 L324.8 1400.5 L332.7 1322.4 L340.6 1429.1 L348.5 1369.7 L356.4 1402.7 L364.3 1412.6 L372.2 1421.4 L380.1 1391.7 L388 1351 L395.9 1468.8 L403.8 1500.7 L411.7 1440.1 L419.6 1352.1 L427.5 1289.3 L435.4 1286 L443.3 1274.4 L451.2 1276.1 L459.1 1316.9 L467 1406 L474.9 1404.9 L482.8 1451.1 L490.8 1506.2 L498.7 1556.4 L506.6 1516.1 L514.5 1400.5 L522.4 1276.1 L530.3 1291.5 L538.2 1297 L546.1 1327.9 L554 1382.9 L561.9 1387.3 L569.8 1400.5 L577.7 1333.4 L585.6 1442.3 L593.5 1371.9 L601.4 1371.9 L609.3 1315.8 L617.2 1335.6 L625.1 1302.5 L633 1314.7 L640.9 1336.7 L648.8 1371.9 L656.7 1376.3 L664.6 1473.2 L672.5 1374.1 L680.4 1351 L688.3 1382.9 L696.2 1352.1 L704.1 1325.7 L712 1235.4 L719.9 1275 L727.8 1323.5 L735.7 1396.1 L743.6 1424.7 L751.5 1429.1 L759.4 1462.2 L767.3 1516.5 L775.2 1502.9 L783.1 1506.2 L791 1444.5 L798.9 1404.9 L806.9 1393.9 L814.8 1341.1 L822.7 1297 L830.6 1323.5 L838.5 1517.2 L846.4 1471 L854.3 1475.4 L862.2 1565.6 L870.1 1583.2 L878 1556.8 L885.9 1529.3 L893.8 1489.7 L901.7 1340.4 L909.6 1422.5 L917.5 1466.6 L925.4 1499.6 L933.3 1521.6 L941.2 1532.6 L949.1 1556.8 L957 1649.3 L964.9 1605.2 L972.8 1477.6 L980.7 1451.1 L988.6 1400.5 L996.5 1356.5 L1004.4 1350.5 L1012.3 1365.3 L1020.2 1365.9 L1028.1 1350.5 L1036 1350.5 L1043.9 1321.3 L1051.8 1445.6 L1059.7 1429.1 L1067.6 1414.8 L1075.5 1402.7 L1083.4 1376.3 L1091.3 1356.5 L1099.2 1301.4 L1107.1 1308.1 L1115 1336.7 L1123 1371.9 L1130.9 1422.5 L1138.8 1468.8 L1146.7 1508.4 L1154.6 1527.1 L1162.5 1542.5 L1170.4 1499.6 L1178.3 1490.8 L1186.2 1341.1 L1194.1 1334.5 L1202 1327.9 L1209.9 1324.1 L1217.8 1338.9 L1225.7 1360.9 L1233.6 1406 L1241.5 1398.3 L1249.4 1387.3 L1257.3 1373 L1265.2 1432.4 L1273.1 1385.1 L1281 1325.7 L1288.9 1286 L1296.8 1284.5 L1304.7 1341.1 L1312.6 1348.8 L1320.5 1371.9 L1328.4 1410.4 L1336.3 1399.4 L1344.2 1431.3 L1352.1 1443.4 L1360 1354.3 L1367.9 1312.5 L1375.8 1264 L1383.7 1237.6 L1391.6 1262.9 L1399.5 1258.5 L1407.4 1253 L1415.3 1246.4 L1423.2 1371.9 L1431.1 1408.2 L1439.1 1404.9 L1447 1367.5 L1454.9 1338.9 L1462.8 1319.1 L1470.7 1235.4 L1478.6 1209 L1486.5 1209 L1494.4 1237.6 L1502.3 1286 L1510.2 1324.6 L1518.1 1322.4 L1526 1374.1 L1533.9 1426.9 L1541.8 1375.2 L1549.7 1380.7 L1557.6 1344.4 L1652.4 1323.5 L1660.3 1253 L1668.2 1239.8 L1676.1 1220 L1684 1217.8 L1691.9 1235.4 L1699.8 1290.4 L1707.7 1330.1 L1715.6 1398.3 L1723.5 1413.7 L1731.4 1312.5 L1739.3 1380.7 L1747.2 1325.7 L1755.2 1237.6 L1763.1 1270.6 L1771 1213.4 L1778.9 1235.4 L1786.8 1292.6 L1794.7 1336.7 L1802.6 1303.6 L1810.5 1341.1 L1818.4 1290.4 L1826.3 1239.8 L1834.2 1259.6 L1842.1 1267.3 L1850 1222.2 L1857.9 1209 L1865.8 1220 L1873.7 1271.7 L1881.6 1273.9 L1889.5 1338.9"/>
<path class="tb_" d="M198.8 1370.1 L1992.5 1423.2"/>
<path class="tk_" d="M198.8 1462.2 L1992.5 1331.6"/>
</g>
<rect class="frame" x="127.5" y="1236.1" width="1936.7" height="320.6"/>
<path class="tick" d="M127.5 1544.1 h-13 M127.5 1494.7 h-13 M127.5 1445.3 h-13 M127.5 1395.9 h-13 M127.5 1346.5 h-13 M127.5 1297.1 h-13 M127.5 1247.7 h-13 M186.9 1556.7 v13 M281.7 1556.7 v13 M376.6 1556.7 v13 M471.4 1556.7 v13 M566.2 1556.7 v13 M661 1556.7 v13 M755.9 1556.7 v13 M850.7 1556.7 v13 M945.5 1556.7 v13 M1040.4 1556.7 v13 M1135.2 1556.7 v13 M1230 1556.7 v13 M1324.9 1556.7 v13 M1419.7 1556.7 v13 M1514.5 1556.7 v13 M1609.4 1556.7 v13 M1704.2 1556.7 v13 M1799 1556.7 v13 M1893.8 1556.7 v13 M1988.7 1556.7 v13 M2064.2 1247.7 h13 M2064.2 1321.8 h13 M2064.2 1395.9 h13 M2064.2 1470 h13 M2064.2 1544.1 h13"/>
<text class="xl" x="186.9" y="1600.4">2003</text>
<text class="xl" x="281.7" y="1600.4">2004</text>
<text class="xl" x="376.6" y="1600.4">2005</text>
<text class="xl" x="471.4" y="1600.4">2006</text>
<text class="xl" x="566.2" y="1600.4">2007</text>
<text class="xl" x="661" y="1600.4">2008</text>
<text class="xl" x="755.9" y="1600.4">2009</text>
<text class="xl" x="850.7" y="1600.4">2010</text>
<text class="xl" x="945.5" y="1600.4">2011</text>
<text class="xl" x="1040.4" y="1600.4">2012</text>
<text class="xl" x="1135.2" y="1600.4">2013</text>
<text class="xl" x="1230" y="1600.4">2014</text>
<text class="xl" x="1324.9" y="1600.4">2015</text>
<text class="xl" x="1419.7" y="1600.4">2016</text>
<text class="xl" x="1514.5" y="1600.4">2017</text>
<text class="xl" x="1609.4" y="1600.4">2018</text>
<text class="xl" x="1704.2" y="1600.4">2019</text>
<text class="xl" x="1799" y="1600.4">2020</text>
<text class="xl" x="1893.8" y="1600.4">2021</text>
<text class="xl" x="1988.7" y="1600.4">2022</text>
<text class="al" x="1095.5" y="1649.4">Time [years]</text>
<text class="yl" text-anchor="middle" transform="translate(99 1247.7) rotate(-90)">0.6</text>
<text class="yl" text-anchor="middle" transform="translate(99 1346.5) rotate(-90)">0.2</text>
<text class="yl" text-anchor="end" transform="translate(99 1418.7) rotate(-90)"><tspan dy="-3.3">–</tspan><tspan dy="3.3" dx="12.5">0.2</tspan></text>
<text class="yl" text-anchor="end" transform="translate(99 1517.5) rotate(-90)"><tspan dy="-3.3">–</tspan><tspan dy="3.3" dx="12.5">0.6</tspan></text>
<text class="al" transform="translate(49.3 1391.4) rotate(-90)">GWLA [m]</text>
<text class="yl" text-anchor="middle" transform="translate(2109 1247.7) rotate(-90)">0.10</text>
<text class="yl" text-anchor="middle" transform="translate(2109 1395.9) rotate(-90)">0.00</text>
<text class="yl" text-anchor="end" transform="translate(2109 1511.3) rotate(-90)"><tspan dy="-3.3">–</tspan><tspan dy="3.3" dx="12.5">0.10</tspan></text>
<text class="al" transform="translate(2157 1394.4) rotate(-90)">GWSA [m]</text>
</g>
<g class="panel">
<text class="tb" transform="translate(969.3 1749.7) scale(1.2 1)">(d)</text>
<text class="tt" x="1022.5" y="1754.2">REGION 4</text>
<g clip-path="url(#c3)">
<path class="grid" d="M186.9 1800 V2120.6 M281.7 1800 V2120.6 M376.6 1800 V2120.6 M471.4 1800 V2120.6 M566.2 1800 V2120.6 M661 1800 V2120.6 M755.9 1800 V2120.6 M850.7 1800 V2120.6 M945.5 1800 V2120.6 M1040.4 1800 V2120.6 M1135.2 1800 V2120.6 M1230 1800 V2120.6 M1324.9 1800 V2120.6 M1419.7 1800 V2120.6 M1514.5 1800 V2120.6 M1609.4 1800 V2120.6 M1704.2 1800 V2120.6 M1799 1800 V2120.6 M1893.8 1800 V2120.6 M1988.7 1800 V2120.6 M127.5 1811.6 H2064.2 M127.5 1885.7 H2064.2 M127.5 2033.9 H2064.2 M127.5 2108 H2064.2"/>
<path class="zero" d="M127.5 1959.8 H2064.2"/>
<path class="db" d="M198.4 1987.2 L206.3 1994.2 L214.2 1994.7 L222.1 1959 L230 1982.1 L237.9 1986.5 L245.8 2046 L253.7 2105.4 L261.6 2098.8 L269.5 2069.1 L277.4 2004.1 L285.3 1964.5 L293.2 1943.6 L301.1 1973.3 L309 1943.6 L316.9 1993.1 L324.8 2055.4 L332.7 1995.3 L340.6 2038.3 L348.5 2023.9 L356.4 1988.7 L364.3 1940.3 L372.2 1911.7 L380.1 1870.9 L388 1917.2 L395.9 1934.8 L403.8 1910.6 L411.7 1951.3 L419.6 1946.2 L427.5 2028.4 L435.4 2004.8 L443.3 2051.5 L451.2 2061.4 L459.1 1971.1 L467 1954.6 L474.9 1956.8 L482.8 1986.5 L490.8 1995.3 L498.7 1904.4 L506.6 1938.1 L514.5 1971.1 L522.4 2037.2 L530.3 2069.1 L538.2 2023.9 L546.1 2001.9 L554 1894.1 L561.9 1843.4 L569.8 1824.7 L577.7 1870.5 L585.6 1856.6 L593.5 1900.7 L601.4 1929.3 L609.3 1978.8 L617.2 1907.3 L625.1 1931.5 L633 1955.7 L640.9 1941.4 L648.8 1940.3 L656.7 1889.7 L664.6 1859.5 L672.5 1858.2 L680.4 1834.6 L688.3 1864.3 L696.2 1938.1 L704.1 2029 L712 2027.3 L719.9 1977.7 L727.8 1950.2 L735.7 1940.3 L743.6 1866.5 L751.5 1869.8 L759.4 1898.5 L767.3 1927.7 L775.2 1925.3 L783.1 1926 L791 1973.3 L798.9 2004.8 L806.9 1982.1 L814.8 1973.3 L822.7 1995.3 L830.6 1982.1 L838.5 1938.1 L846.4 1901.8 L854.3 1933.7 L862.2 1963.4 L870.1 1964.5 L878 1882.4 L885.9 1928.7 L893.8 1949.7 L901.7 2040.5 L909.6 1982.1 L917.5 1979.5 L925.4 1978.8 L933.3 1904 L941.2 1937 L949.1 1933.7 L957 1915 L964.9 1946.9 L972.8 1887.5 L980.7 1964.5 L988.6 1971.1 L996.5 2012.9 L1004.4 2005.2 L1012.3 1923.8 L1020.2 1910.6 L1028.1 1924.2 L1036 1858.8 L1043.9 1844.5 L1051.8 1908.8 L1059.7 1893.4 L1067.6 1906.2 L1075.5 1909.5 L1083.4 1959 L1091.3 1921.6 L1099.2 1973.3 L1107.1 1978.8 L1115 1889.7 L1123 1863.2 L1130.9 1885.3 L1138.8 1858.8 L1146.7 1909.5 L1154.6 1951.3 L1162.5 1975.5 L1170.4 1933.7 L1178.3 1984.3 L1186.2 2006.3 L1194.1 2037.2 L1202 2080.5 L1209.9 2074.6 L1217.8 1960.1 L1225.7 1933.7 L1233.6 1873.2 L1241.5 1858.2 L1249.4 1874.3 L1257.3 1886.4 L1265.2 1909.5 L1273.1 1992 L1281 2031 L1288.9 2032.8 L1296.8 1997.5 L1304.7 1971.1 L1312.6 1902.9 L1320.5 1880.9 L1328.4 1845.6 L1336.3 1865.4 L1344.2 1874.3 L1352.1 1883.1 L1360 1900.7 L1367.9 1931.5 L1375.8 1973.3 L1383.7 2003 L1391.6 1971.8 L1399.5 1992.5 L1407.4 1960.1 L1415.3 1894.1 L1423.2 1908.4 L1431.1 1869.2 L1439.1 1886.4 L1447 1879.8 L1454.9 1935.9 L1462.8 2021.7 L1470.7 2020.6 L1478.6 2074.6 L1486.5 2093.7 L1494.4 2120.4 L1502.3 2059.2 L1510.2 1989.8 L1518.1 1964.5 L1526 1986.5 L1533.9 1943.6 L1541.8 1955.7 L1549.7 1984.8 L1557.6 1989.4 L1565.5 2073.5 L1573.4 2103.2 L1581.3 2037.2 L1589.2 1993.1 L1597.1 1949.1 L1605 1893 L1612.9 1873.2 L1620.8 1882 L1628.7 1913.9 L1636.6 1896.3 L1644.5 1940.3 L1652.4 2048.2 L1660.3 2107.6 L1668.2 2129.6 L1676.1 2092.2 L1684 2048.2 L1691.9 2010.7 L1699.8 1979.9 L1707.7 1986.5 L1715.6 1927.1 L1723.5 1882 L1731.4 1944.7 L1739.3 1975.5 L1747.2 1996.4 L1755.2 2072.4 L1763.1 2094.8 L1771 2037.2 L1778.9 1982.1 L1786.8 1918.3 L1794.7 1869.8 L1802.6 1873.8 L1810.5 1855.5 L1818.4 1847.8 L1826.3 1913.9 L1834.2 1962.3 L1842.1 2030.6 L1850 2026.2 L1857.9 2059.2 L1865.8 2101.7 L1873.7 2037.2 L1881.6 1971.1 L1889.5 1927.1 L1897.4 1901.3 L1905.3 1948.7 L1913.2 1916.5 L1921.1 1932.6 L1929 1918.3 L1936.9 1971.1 L1944.8 2038.7 L1952.7 2061.4 L1960.6 2073.5 L1968.5 1968.9 L1976.4 1942.9"/>
<path class="dk" d="M253.7 2147.2 L261.6 2094.4 L269.5 2050.4 L277.4 1982.1 L285.3 1944.7 L293.2 1925.3 L301.1 1942.5 L309 1957.9 L316.9 2037.2 L324.8 2103.2 L332.7 2047.5 L340.6 2070.2 L348.5 2046 L356.4 2004.1 L364.3 1949.1 L372.2 1929.3 L380.1 1897.8 L388 1902.2 L395.9 1920.5 L403.8 1957.9 L411.7 2015.1 L419.6 2019.5 L427.5 2117.5 L435.4 2064.2 L443.3 2073.5 L451.2 2051.5 L459.1 1968.9 L467 1945.4 L474.9 1941 L482.8 1949.1 L490.8 1971.1 L498.7 1974.4 L506.6 2035.5 L514.5 2062.5 L522.4 2109.8 L530.3 2169.2 L538.2 2079 L546.1 2015.1 L554 1927.1 L561.9 1857.7 L569.8 1842.8 L577.7 1852.9 L585.6 1848.5 L593.5 1916.1 L601.4 1971.1 L609.3 2035 L617.2 1986.5 L625.1 1984.8 L633 2000.8 L640.9 1949.1 L648.8 1927.1 L656.7 1873.2 L664.6 1853.3 L672.5 1847.8 L680.4 1846.3 L688.3 1878.7 L696.2 1971.1 L704.1 2090 L712 2093.7 L719.9 2052.6 L727.8 1984.3 L735.7 1965.6 L743.6 1909.5 L751.5 1879.8 L759.4 1872.1 L767.3 1891.9 L775.2 1904.4 L783.1 1944.7 L791 2015.1 L798.9 2042.7 L806.9 2044.9 L814.8 2015.1 L822.7 1995.3 L830.6 1982.1 L838.5 1953.5 L846.4 1894.7 L854.3 1907.3 L862.2 1934.4 L870.1 1943.6 L878 1941.8 L885.9 1971.1 L893.8 1984.3 L901.7 2054.8 L909.6 2008.5 L917.5 1988.7 L925.4 1968.9 L933.3 1918.3 L941.2 1916.1 L949.1 1905.1 L957 1879.1 L964.9 1898.5 L972.8 1915.6 L980.7 1988.7 L988.6 2018.4 L996.5 2033.9 L1004.4 2004.1 L1012.3 1934.8 L1020.2 1912.8 L1028.1 1878.7 L1036 1847.8 L1043.9 1839.7 L1051.8 1865.4 L1059.7 1874.9 L1067.6 1902.9 L1075.5 1921.6 L1083.4 1971.1 L1091.3 1961.2 L1099.2 1959.7 L1107.1 1952.8 L1115 1887.5 L1123 1842.8 L1130.9 1857.7 L1138.8 1842.3 L1146.7 1855.5 L1154.6 1876.5 L1162.5 1911.7 L1170.4 1957.9 L1178.3 2001.5 L1186.2 2008.5 L1194.1 2059.2 L1202 2109.1 L1209.9 2068 L1217.8 1933.7 L1225.7 1909.5 L1233.6 1845.2 L1241.5 1839.7 L1249.4 1854.4 L1257.3 1880.9 L1265.2 1922.7 L1273.1 1985.4 L1281 2037.2 L1288.9 2083.4 L1296.8 2032.8 L1304.7 1971.1 L1312.6 1874.3 L1320.5 1843.4 L1328.4 1830.2 L1336.3 1834 L1344.2 1841.9 L1352.1 1878.7 L1360 1909.5 L1367.9 1944.7 L1375.8 1970.5 L1383.7 1977.7 L1391.6 1976.6 L1399.5 1963.4 L1407.4 1927.1 L1415.3 1869.8 L1423.2 1857.3 L1431.1 1835.7 L1439.1 1847.2 L1447 1867.6 L1454.9 1920.5 L1462.8 1990.9 L1470.7 1989.4 L1478.6 2000.8 L1486.5 2005.2 L1494.4 2030.1 L1502.3 1960.1 L1510.2 1898.5 L1518.1 1863.9 L1526 1855.5 L1533.9 1852.2 L1541.8 1891.9 L1549.7 1935.2 L1557.6 1952.8 L1565.5 2026.2 L1573.4 2071.3 L1581.3 2021.7 L1589.2 1995.3 L1597.1 1955.7 L1605 1905.1 L1612.9 1858.8 L1620.8 1842.8 L1628.7 1847.8 L1636.6 1870.9 L1644.5 1918.3 L1652.4 2052.6 L1660.3 2182.5 L1668.2 2235.3 L1676.1 2235.3 L1684 2141.7 L1691.9 1982.1 L1699.8 1915 L1707.7 1905.1 L1715.6 1889.7 L1723.5 1876.9 L1731.4 1909.5 L1739.3 1957.9 L1747.2 1968.9 L1755.2 2029 L1763.1 2036.5 L1771 1982.1 L1778.9 1960.1 L1786.8 1913.9 L1794.7 1861 L1802.6 1846.7 L1810.5 1839.7 L1818.4 1836.8 L1826.3 1891.9 L1834.2 1940.3 L1842.1 2018.4 L1850 2023.9 L1857.9 2015.8 L1865.8 2012.3 L1873.7 1971.1 L1881.6 1916.1 L1889.5 1882.4 L1897.4 1873.2 L1905.3 1878.7 L1913.2 1876.5 L1921.1 1890.8 L1929 1918.3 L1936.9 1955.7 L1944.8 1977.1 L1952.7 1985 L1960.6 1990.3 L1968.5 1927.1 L1976.4 1889.7 L1984.3 1884.2 L1992.2 1876.5"/>
<path class="dr" d="M127.2 1922.7 L135.1 1907.3 L143 1894.1 L150.9 1883.1 L158.8 1818.1 L166.7 1918.3 L174.7 1971.1 L182.6 2059.2 L190.5 2112 L198.4 2041.6 L206.3 2061.4 L214.2 2036.1 L222.1 2087.8 L230 1982.1 L237.9 1922.7 L245.8 1883.1 L253.7 1876.5 L261.6 1891.9 L269.5 1949.1 L277.4 1997.5 L285.3 2017.3 L293.2 2037.2 L301.1 2068 L309 2084.5 L316.9 2059.2 L324.8 1927.1 L332.7 1861 L340.6 1949.1 L348.5 1932.6 L356.4 1977.7 L364.3 1968.9 L372.2 1972.2 L380.1 1962.3 L388 1880.9 L395.9 1982.1 L403.8 2012.9 L411.7 1971.1 L419.6 1889.7 L427.5 1822.5 L435.4 1823.6 L443.3 1833.5 L451.2 1850 L459.1 1920.5 L467 1977.7 L474.9 1962.3 L482.8 2010.7 L490.8 2070.2 L498.7 2120.8 L506.6 2059.2 L514.5 1949.1 L522.4 1834.6 L530.3 1854.4 L538.2 1876.5 L546.1 1922.7 L554 1982.1 L561.9 1968.9 L569.8 1971.1 L577.7 1911.7 L585.6 2004.1 L593.5 1911.7 L601.4 1913.9 L609.3 1877.6 L617.2 1944.7 L625.1 1907.3 L633 1935.9 L640.9 1951.3 L648.8 1962.3 L656.7 1959 L664.6 2029.5 L672.5 1971.1 L680.4 1927.1 L688.3 1946.9 L696.2 1898.5 L704.1 1861 L712 1801.6 L719.9 1839 L727.8 1900.7 L735.7 1988.7 L743.6 2006.3 L751.5 1986.5 L759.4 1999.7 L767.3 2057 L775.2 2053.7 L783.1 2050.4 L791 1971.1 L798.9 1942.5 L806.9 1946.9 L814.8 1942.5 L822.7 1906.2 L830.6 1927.1 L838.5 2105.4 L846.4 2037.2 L854.3 2015.1 L862.2 2116.4 L870.1 2158.2 L878 2107.6 L885.9 2062.5 L893.8 2020.6 L901.7 1898.5 L909.6 1986.5 L917.5 2039.4 L925.4 2059.2 L933.3 2085.6 L941.2 2073.5 L949.1 2103.2 L957 2129.6 L964.9 2125.2 L972.8 2032.8 L980.7 1986.5 L988.6 1960.1 L996.5 1933.7 L1004.4 1934.8 L1012.3 1990.9 L1020.2 1986.5 L1028.1 1942.5 L1036 1931.5 L1043.9 1889.7 L1051.8 1975.5 L1059.7 1957.9 L1067.6 1944.7 L1075.5 1927.1 L1083.4 1915 L1091.3 1911.7 L1099.2 1883.1 L1107.1 1907.3 L1115 1931.5 L1123 1951.3 L1130.9 1955.7 L1138.8 2001.9 L1146.7 2049.3 L1154.6 2057 L1162.5 2060.3 L1170.4 2035 L1178.3 2030.6 L1186.2 1902.9 L1194.1 1891.9 L1202 1880.9 L1209.9 1873.2 L1217.8 1922.7 L1225.7 1962.3 L1233.6 1975.5 L1241.5 1957.9 L1249.4 1933.7 L1257.3 1911.7 L1265.2 1971.1 L1273.1 1927.1 L1281 1883.1 L1288.9 1836.8 L1296.8 1869.8 L1304.7 1940.3 L1312.6 1964.5 L1320.5 1988.7 L1328.4 2005.2 L1336.3 1968.9 L1344.2 1975.5 L1352.1 1967.8 L1360 1896.3 L1367.9 1856.6 L1375.8 1821.4 L1383.7 1811.5 L1391.6 1873.2 L1399.5 1885.3 L1407.4 1898.5 L1415.3 1907.3 L1423.2 1988.7 L1431.1 2025 L1439.1 1993.1 L1447 1957.9 L1454.9 1918.3 L1462.8 1894.1 L1470.7 1854.4 L1478.6 1801.6 L1486.5 1845.6 L1494.4 1894.1 L1502.3 1946.9 L1510.2 1968.9 L1518.1 1957.9 L1526 2006.3 L1533.9 2051.5 L1541.8 1993.1 L1549.7 2003 L1557.6 1971.1 L1652.4 1884.2 L1660.3 1823.6 L1668.2 1831.3 L1676.1 1839 L1684 1845.6 L1691.9 1891.9 L1699.8 1960.1 L1707.7 1999.7 L1715.6 2076.8 L1723.5 2092.2 L1731.4 1942.5 L1739.3 1999.7 L1747.2 1988.7 L1755.2 1890.8 L1763.1 1915 L1771 1897.4 L1778.9 1968.9 L1786.8 2006.3 L1794.7 2032.8 L1802.6 1955.7 L1810.5 1967.8 L1818.4 1894.1 L1826.3 1817 L1834.2 1814.8 L1842.1 1812.6 L1850 1808.2 L1857.9 1773 L1865.8 1784 L1873.7 1918.3 L1881.6 1971.1 L1889.5 2017.3"/>
<path class="tb_" d="M198.8 1954.6 L1992.5 1964.3"/>
<path class="tk_" d="M198.8 2009 L1992.5 1911"/>
</g>
<rect class="frame" x="127.5" y="1800" width="1936.7" height="320.6"/>
<path class="tick" d="M127.5 2108 h-13 M127.5 2058.6 h-13 M127.5 2009.2 h-13 M127.5 1959.8 h-13 M127.5 1910.4 h-13 M127.5 1861 h-13 M127.5 1811.6 h-13 M186.9 2120.6 v13 M281.7 2120.6 v13 M376.6 2120.6 v13 M471.4 2120.6 v13 M566.2 2120.6 v13 M661 2120.6 v13 M755.9 2120.6 v13 M850.7 2120.6 v13 M945.5 2120.6 v13 M1040.4 2120.6 v13 M1135.2 2120.6 v13 M1230 2120.6 v13 M1324.9 2120.6 v13 M1419.7 2120.6 v13 M1514.5 2120.6 v13 M1609.4 2120.6 v13 M1704.2 2120.6 v13 M1799 2120.6 v13 M1893.8 2120.6 v13 M1988.7 2120.6 v13 M2064.2 1811.6 h13 M2064.2 1885.7 h13 M2064.2 1959.8 h13 M2064.2 2033.9 h13 M2064.2 2108 h13"/>
<text class="xl" x="186.9" y="2164.3">2003</text>
<text class="xl" x="281.7" y="2164.3">2004</text>
<text class="xl" x="376.6" y="2164.3">2005</text>
<text class="xl" x="471.4" y="2164.3">2006</text>
<text class="xl" x="566.2" y="2164.3">2007</text>
<text class="xl" x="661" y="2164.3">2008</text>
<text class="xl" x="755.9" y="2164.3">2009</text>
<text class="xl" x="850.7" y="2164.3">2010</text>
<text class="xl" x="945.5" y="2164.3">2011</text>
<text class="xl" x="1040.4" y="2164.3">2012</text>
<text class="xl" x="1135.2" y="2164.3">2013</text>
<text class="xl" x="1230" y="2164.3">2014</text>
<text class="xl" x="1324.9" y="2164.3">2015</text>
<text class="xl" x="1419.7" y="2164.3">2016</text>
<text class="xl" x="1514.5" y="2164.3">2017</text>
<text class="xl" x="1609.4" y="2164.3">2018</text>
<text class="xl" x="1704.2" y="2164.3">2019</text>
<text class="xl" x="1799" y="2164.3">2020</text>
<text class="xl" x="1893.8" y="2164.3">2021</text>
<text class="xl" x="1988.7" y="2164.3">2022</text>
<text class="al" x="1095.5" y="2213.3">Time [years]</text>
<text class="yl" text-anchor="middle" transform="translate(99 1811.6) rotate(-90)">0.6</text>
<text class="yl" text-anchor="middle" transform="translate(99 1910.4) rotate(-90)">0.2</text>
<text class="yl" text-anchor="end" transform="translate(99 1982.6) rotate(-90)"><tspan dy="-3.3">–</tspan><tspan dy="3.3" dx="12.5">0.2</tspan></text>
<text class="yl" text-anchor="end" transform="translate(99 2081.4) rotate(-90)"><tspan dy="-3.3">–</tspan><tspan dy="3.3" dx="12.5">0.6</tspan></text>
<text class="al" transform="translate(49.3 1955.3) rotate(-90)">GWLA [m]</text>
<text class="yl" text-anchor="middle" transform="translate(2109 1811.6) rotate(-90)">0.10</text>
<text class="yl" text-anchor="middle" transform="translate(2109 1959.8) rotate(-90)">0.00</text>
<text class="yl" text-anchor="end" transform="translate(2109 2075.2) rotate(-90)"><tspan dy="-3.3">–</tspan><tspan dy="3.3" dx="12.5">0.10</tspan></text>
<text class="al" transform="translate(2157 1958.3) rotate(-90)">GWSA [m]</text>
</g>
<g class="legend">
<rect x="203.2" y="2367" width="1785" height="72.5" fill="#fff" stroke="#000" stroke-width="1.6"/>
<path class="lb" d="M231.6 2402 H285.2"/>
<text class="lg" x="313" y="2414.6">WELL_GWLA - data and trend</text>
<path class="lk" d="M821.6 2402 H875.8"/>
<text class="lg" x="903" y="2414.6">CSR_CLM_GWSA - data and trend</text>
<path class="lr" d="M1411.3 2402 H1466"/>
<text class="lg" x="1493.5" y="2414.6">JPL_NOAH_GWSA</text>
</g>
</svg>
</body>
</html>
